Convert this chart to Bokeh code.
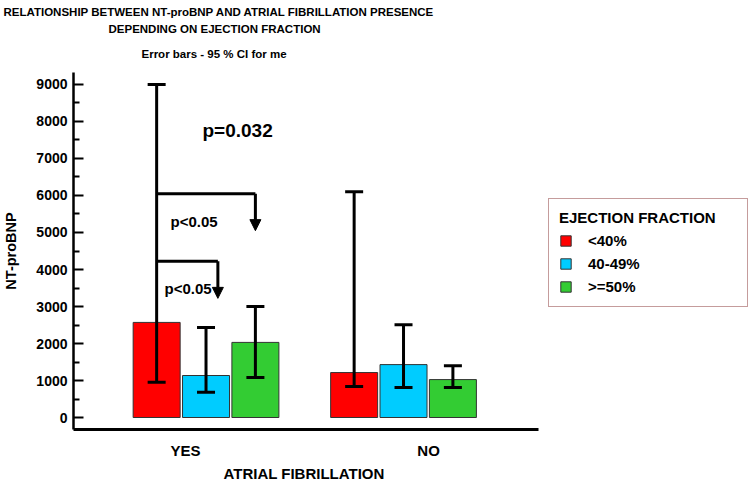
from bokeh.plotting import figure
from bokeh.models import (ColumnDataSource, Whisker, TeeHead, Arrow, NormalHead,
                          Title, Legend, LegendItem, FixedTicker, Range1d)
from bokeh.core.properties import value
from bokeh.embed import file_html
from bokeh.resources import INLINE

# ---------------- data ----------------
af_labels = ["YES", "NO"]
ef_groups = ["<40%", "40-49%", ">=50%"]
mean_lt40 = [2570, 1215]
mean_40_49 = [1135, 1430]
mean_ge50 = [2030, 1025]
ci_lo_lt40 = [950, 840]
ci_hi_lt40 = [9000, 6100]
ci_lo_40_49 = [680, 810]
ci_hi_40_49 = [2430, 2510]
ci_lo_ge50 = [1080, 810]
ci_hi_ge50 = [3000, 1400]
y_ticks = [0, 1000, 2000, 3000, 4000, 5000, 6000, 7000, 8000, 9000]

overall_p = "p=0.032"
pair_p = ["p<0.05", "p<0.05"]
bracket_level = [6050, 4220]
bracket_tip = [5050, 3220]

titles = ["RELATIONSHIP BETWEEN NT-proBNP AND ATRIAL FIBRILLATION PRESENCE",
          "DEPENDING ON EJECTION FRACTION",
          "Error bars - 95 % CI for me"]
x_title = "ATRIAL FIBRILLATION"
y_title = "NT-proBNP"

# ---------------- layout / style ----------------
colors = ["#FF0000", "#00CCFF", "#33CC33"]
offsets = [-0.25, 0.0, 0.25]
bar_w = 0.238
bracket_to_x = [1.25, 1.06]
pair_p_pos = [(0.82, 5297), (0.79, 3486)]
overall_p_pos = (0.982, 7757)
label_x = [0.896, 2.127]
title_offsets = [-70, 35, 68]
title_standoffs = [5, 1, 21]
axis_end = 2.683          # where the drawn x-axis line stops
PX = 197.5                # pixels per x unit

SANS = "Liberation Sans"

W, H = 749, 484
x0 = 0.329
p = figure(width=W, height=H, output_backend="svg", toolbar_location=None,
           x_range=Range1d(x0, x0 + (W - 73) / PX), y_range=Range1d(-324, 9324),
           min_border_left=73, min_border_right=0, min_border_top=72,
           min_border_bottom=55)
p.outline_line_color = None
p.xgrid.visible = False
p.ygrid.visible = False
p.background_fill_color = "white"
p.border_fill_color = "white"

items = []
series = [(mean_lt40, ci_lo_lt40, ci_hi_lt40),
          (mean_40_49, ci_lo_40_49, ci_hi_40_49),
          (mean_ge50, ci_lo_ge50, ci_hi_ge50)]
for k, (m, lo, hi) in enumerate(series):
    xs = [i + 1 + offsets[k] for i in range(len(af_labels))]
    src = ColumnDataSource(dict(x=xs, top=m, lo=lo, hi=hi))
    r = p.vbar(x="x", top="top", bottom=0, width=bar_w, source=src,
               fill_color=colors[k], line_color="#333333", line_width=1)
    items.append(LegendItem(label=ef_groups[k], renderers=[r]))
    wk = Whisker(source=src, base="x", upper="hi", lower="lo", dimension="height",
                 line_width=3, line_color="black", level="annotation",
                 upper_head=TeeHead(size=18, line_width=3, line_color="black"),
                 lower_head=TeeHead(size=18, line_width=3, line_color="black"))
    p.add_layout(wk)

# brackets from the <40% bar of the YES group
x_from = 1 + offsets[0]
p.segment(x0=[x_from] * 2, x1=bracket_to_x, y0=bracket_level, y1=bracket_level,
          line_width=3, line_color="black")
for bx, lv, tip in zip(bracket_to_x, bracket_level, bracket_tip):
    p.add_layout(Arrow(x_start=bx, y_start=lv, x_end=bx, y_end=tip, line_width=3,
                       line_color="black",
                       end=NormalHead(size=11, fill_color="black", line_color="black")))

p.text(x=[pos[0] for pos in pair_p_pos], y=[pos[1] for pos in pair_p_pos], text=pair_p,
       text_font=value(SANS), text_font_style="bold", text_font_size="15px",
       text_baseline="middle", text_align="left", text_color="black")
p.text(x=[overall_p_pos[0]], y=[overall_p_pos[1]], text=[overall_p],
       text_font=value(SANS), text_font_style="bold", text_font_size="19px",
       text_baseline="middle", text_align="left", text_color="black")

# axes
p.yaxis.ticker = FixedTicker(ticks=y_ticks, minor_ticks=[v + 500 for v in y_ticks])
p.yaxis.axis_line_width = 2.5
p.yaxis.major_tick_in = 10
p.yaxis.major_tick_out = 0
p.yaxis.minor_tick_in = 6
p.yaxis.minor_tick_out = 0
p.yaxis.major_tick_line_width = 2
p.yaxis.minor_tick_line_width = 2
p.yaxis.major_label_text_font = SANS
p.yaxis.major_label_text_font_style = "bold"
p.yaxis.major_label_text_font_size = "14px"
p.yaxis.major_label_text_color = "black"
p.yaxis.major_label_standoff = 6
p.yaxis.axis_label = y_title
p.yaxis.axis_label_text_font = SANS
p.yaxis.axis_label_text_font_style = "bold"
p.yaxis.axis_label_text_font_size = "14.5px"
p.yaxis.axis_label_text_color = "black"
p.yaxis.axis_label_standoff = 14

p.xaxis.ticker = FixedTicker(ticks=label_x)
p.xaxis.bounds = (x0, axis_end)
p.xaxis.major_label_overrides = {label_x[i]: af_labels[i] for i in range(len(af_labels))}
p.xaxis.axis_line_width = 3
p.xaxis.major_tick_line_color = None
p.xaxis.minor_tick_line_color = None
p.xaxis.major_label_text_font = SANS
p.xaxis.major_label_text_font_style = "bold"
p.xaxis.major_label_text_font_size = "15px"
p.xaxis.major_label_text_color = "black"
p.xaxis.major_label_standoff = 6

# x axis title, centred under the drawn axis line
p.add_layout(Title(text=x_title, align="left", offset=150, standoff=3,
                   text_font=SANS, text_font_style="bold", text_font_size="15px",
                   text_color="black"), "below")

# title lines (innermost first)
p.title = None
for t, off, so in reversed(list(zip(titles, title_offsets, title_standoffs))):
    p.add_layout(Title(text=t, align="left", offset=off, standoff=so,
                       vertical_align="top",
                       text_font=SANS, text_font_style="bold", text_font_size="11.5px",
                       text_color="black"), "above")

legend = Legend(items=items, location=(475, 122), title="EJECTION FRACTION",
                title_text_font=SANS, title_text_font_style="bold",
                title_text_font_size="15px", title_standoff=4, title_text_color="black",
                label_text_font=SANS, label_text_font_style="bold",
                label_text_font_size="15px", label_text_color="black",
                label_standoff=16, label_width=149,
                glyph_width=13, glyph_height=13, label_height=20, spacing=3,
                padding=10, margin=0, border_line_color="#8B3A3A",
                border_line_width=1.5, background_fill_color="white")
p.add_layout(legend, "center")

open("out.html", "w").write(file_html(p, INLINE))
